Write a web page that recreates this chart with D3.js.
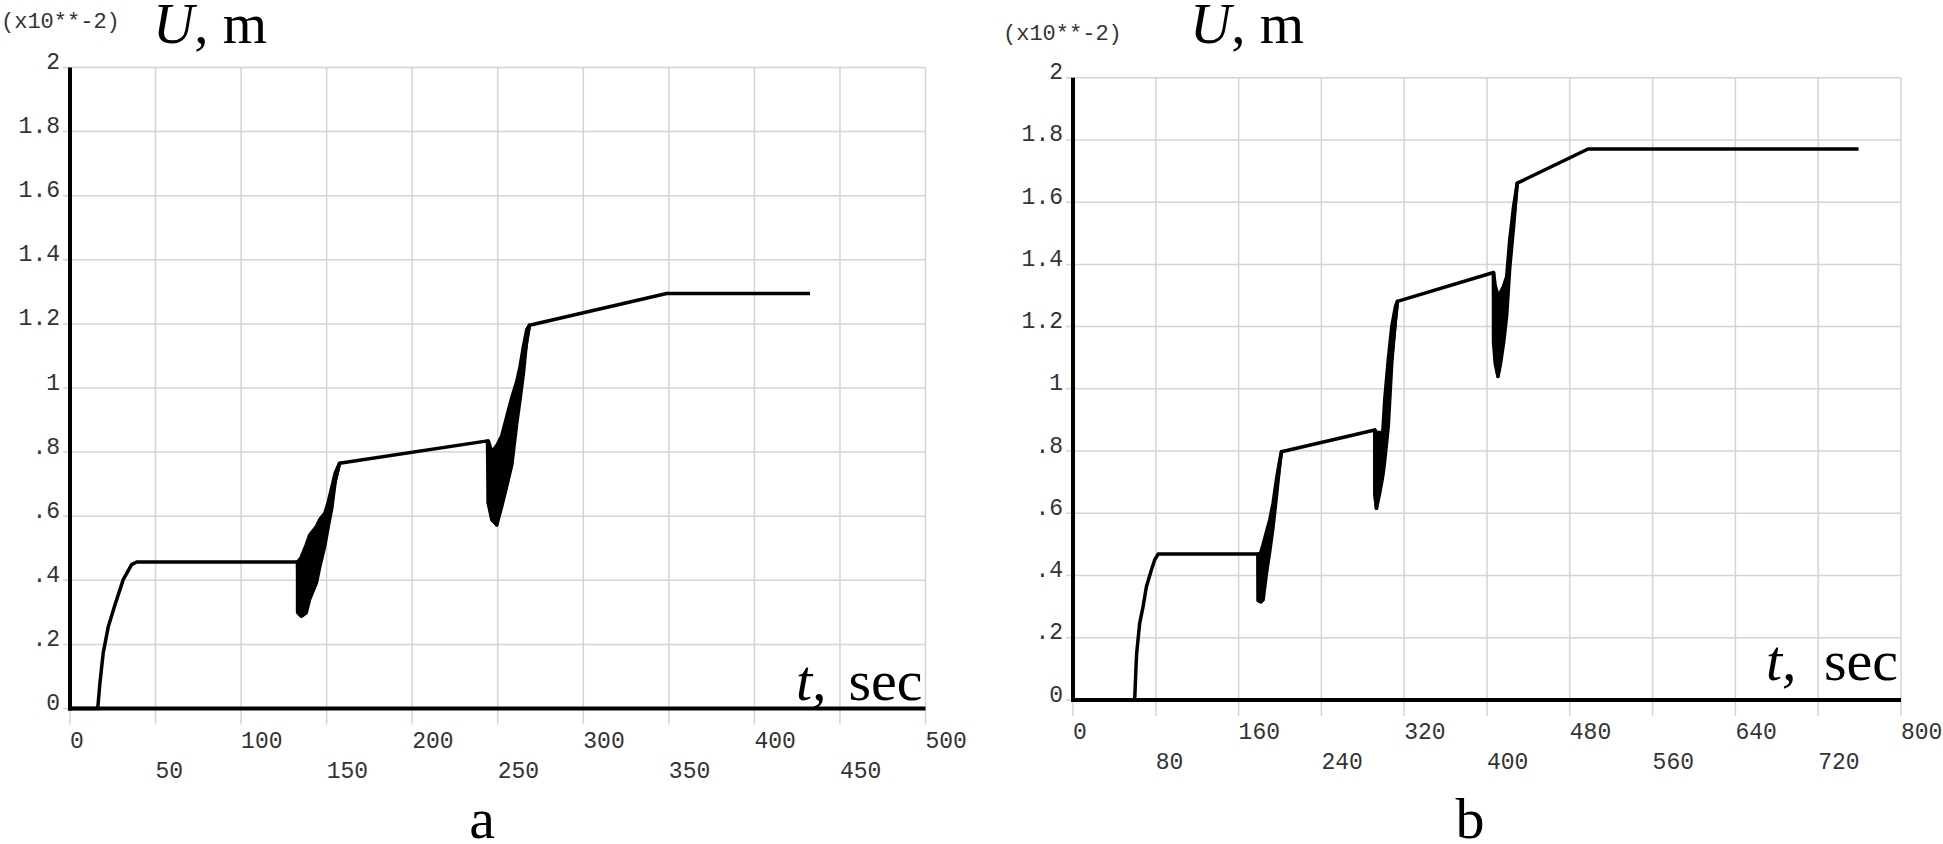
<!DOCTYPE html>
<html>
<head>
<meta charset="utf-8">
<script src="https://cdn.jsdelivr.net/npm/d3@7"></script>
<style>
  html, body { margin: 0; padding: 0; background: #fff; }
  svg { display: block; }
</style>
</head>
<body>
<svg id="chart" width="1943" height="844"></svg>
<script>
// ---------------- DATA ----------------
const yTicks = [0, 0.2, 0.4, 0.6, 0.8, 1, 1.2, 1.4, 1.6, 1.8, 2];
const yTickLabels = ["0", ".2", ".4", ".6", ".8", "1", "1.2", "1.4", "1.6", "1.8", "2"];
const xTicksA = [0, 50, 100, 150, 200, 250, 300, 350, 400, 450, 500];
const xTicksB = [0, 80, 160, 240, 320, 400, 480, 560, 640, 720, 800];
const scaleLabel = "(x10**-2)";
const yTitle = ["U", ", m"];
const xTitle = ["t,", "sec"];
const panelNames = ["a", "b"];

// Panel a: main trace (t in sec, U in 1e-2 m)
const tA = [0, 16.2, 17.5, 19.4, 22.4, 26.3, 31.1, 36, 38.9, 133, 133.5, 136, 157.5, 244, 244.5, 249.4, 268.5, 348.7, 432.5];
const uA = [0, 0, 0.08, 0.173, 0.256, 0.324, 0.402, 0.449, 0.457, 0.457, 0.30, 0.29, 0.765, 0.835, 0.64, 0.573, 1.196, 1.295, 1.295];
// Panel a: oscillation bands (envelopes)
const bandA1T  = [133, 135, 138, 140, 144, 146, 149, 151, 153, 155, 157.5];
const bandA1Lo = [0.30, 0.288, 0.298, 0.34, 0.392, 0.443, 0.51, 0.57, 0.625, 0.71, 0.765];
const bandA1Hi = [0.457, 0.47, 0.51, 0.54, 0.568, 0.59, 0.61, 0.645, 0.69, 0.735, 0.765];
const bandA2T  = [244.5, 246.5, 249.4, 252.3, 255.2, 258.2, 261.1, 263, 265, 266.9, 268.5];
const bandA2Lo = [0.64, 0.589, 0.573, 0.63, 0.693, 0.76, 0.89, 0.963, 1.046, 1.15, 1.196];
const bandA2Hi = [0.835, 0.80, 0.82, 0.85, 0.91, 0.97, 1.02, 1.066, 1.129, 1.181, 1.196];

// Panel b: main trace
const tB = [0, 59.6, 60.8, 61.5, 64.4, 67.7, 70.9, 75.7, 78.9, 82.2, 178.8, 179.3, 182, 201.4, 291.6, 292, 293.2, 313.4, 406.3, 406.8, 410.6, 429.2, 497.6, 759];
const uB = [0, 0, 0.1, 0.15, 0.246, 0.3, 0.364, 0.418, 0.45, 0.469, 0.469, 0.32, 0.316, 0.798, 0.868, 0.66, 0.616, 1.281, 1.374, 1.15, 1.04, 1.661, 1.771, 1.771];
// Panel b: oscillation bands
const bandB1T  = [178.8, 181, 183.7, 186.9, 190.1, 193.3, 196.5, 199.8, 201.4];
const bandB1Lo = [0.32, 0.316, 0.322, 0.407, 0.478, 0.557, 0.653, 0.76, 0.798];
const bandB1Hi = [0.469, 0.47, 0.50, 0.54, 0.579, 0.632, 0.707, 0.772, 0.798];
const bandB2T  = [291.6, 293.2, 296, 299.3, 301.2, 304.6, 308, 311.6, 313.4];
const bandB2Lo = [0.66, 0.616, 0.66, 0.72, 0.77, 0.879, 1.085, 1.227, 1.281];
const bandB2Hi = [0.868, 0.86, 0.86, 0.86, 0.965, 1.093, 1.2, 1.265, 1.281];
const bandB3T  = [406.3, 408, 410.6, 413, 416, 419, 422, 425.7, 429.2];
const bandB3Lo = [1.15, 1.08, 1.04, 1.08, 1.147, 1.235, 1.39, 1.522, 1.661];
const bandB3Hi = [1.374, 1.33, 1.30, 1.31, 1.33, 1.36, 1.48, 1.586, 1.661];

// ---------------- DRAW ----------------
const svg = d3.select("#chart");
const GRID = "#d4d4d4";
const TICKFONT = "'Liberation Mono', 'DejaVu Sans Mono', monospace";
const SERIF = "'Liberation Serif', 'Times New Roman', serif";

function panel(opt) {
  const x = d3.scaleLinear().domain([0, opt.xMax]).range([opt.left, opt.right]);
  const y = d3.scaleLinear().domain([0, 2]).range([opt.bottom, opt.top]);
  const g = svg.append("g");

  // vertical gridlines (extend below axis as ticks)
  g.selectAll("line.vg").data(opt.xTicks).enter().append("line")
    .attr("x1", d => x(d)).attr("x2", d => x(d))
    .attr("y1", y(2)).attr("y2", y(0) + 16)
    .attr("stroke", GRID).attr("stroke-width", 1.5);
  // horizontal gridlines (extend left of axis as ticks)
  g.selectAll("line.hg").data(yTicks).enter().append("line")
    .attr("x1", x(0) - 7).attr("x2", x(opt.xMax))
    .attr("y1", d => y(d)).attr("y2", d => y(d))
    .attr("stroke", GRID).attr("stroke-width", 1.5);

  // axis lines
  g.append("line").attr("x1", x(0)).attr("x2", x(0))
    .attr("y1", y(2)).attr("y2", y(0) + 2)
    .attr("stroke", "#000").attr("stroke-width", 4);
  g.append("line").attr("x1", x(0) - 2).attr("x2", x(opt.xMax))
    .attr("y1", y(0)).attr("y2", y(0))
    .attr("stroke", "#000").attr("stroke-width", 4);

  // bands
  const area = d3.area().x(d => x(d[0])).y0(d => y(d[1])).y1(d => y(d[2]));
  opt.bands.forEach(b => {
    g.append("path").datum(d3.zip(b[0], b[1], b[2]))
      .attr("d", area)
      .attr("fill", "#000").attr("stroke", "#000")
      .attr("stroke-width", 3.5).attr("stroke-linejoin", "round");
  });
  // main line
  const line = d3.line().x(d => x(d[0])).y(d => y(d[1]));
  g.append("path").datum(d3.zip(opt.t, opt.u))
    .attr("d", line).attr("fill", "none")
    .attr("stroke", "#000").attr("stroke-width", 3.5)
    .attr("stroke-linejoin", "round");

  // y tick labels
  g.selectAll("text.yl").data(yTicks).enter().append("text")
    .attr("x", x(0) - 10).attr("y", d => y(d) + 1.5)
    .attr("text-anchor", "end")
    .attr("font-family", TICKFONT).attr("font-size", 23)
    .attr("fill", "#333")
    .text((d, i) => yTickLabels[i]);
  // x tick labels (staggered rows)
  g.selectAll("text.xl").data(opt.xTicks).enter().append("text")
    .attr("x", d => x(d))
    .attr("y", (d, i) => y(0) + (i % 2 === 0 ? 39 : 69))
    .attr("text-anchor", "start")
    .attr("font-family", TICKFONT).attr("font-size", 23)
    .attr("fill", "#333")
    .text(d => d);

  // scale factor label
  g.append("text").attr("x", opt.scaleX).attr("y", opt.scaleY)
    .attr("font-family", TICKFONT).attr("font-size", 22).attr("fill", "#333")
    .text(scaleLabel);

  // y title
  const yt = g.append("text").attr("x", opt.uX).attr("y", 43)
    .attr("font-family", SERIF).attr("font-size", 57).attr("fill", "#000");
  yt.append("tspan").attr("font-style", "italic").text(yTitle[0]);
  yt.append("tspan").text(yTitle[1]);

  // x title
  g.append("text").attr("x", opt.tX).attr("y", opt.tY)
    .attr("font-family", SERIF).attr("font-size", 58).attr("font-style", "italic")
    .attr("fill", "#000").text(xTitle[0]);
  g.append("text").attr("x", x(opt.xMax) - 3).attr("y", opt.tY)
    .attr("text-anchor", "end")
    .attr("font-family", SERIF).attr("font-size", 58)
    .attr("fill", "#000").text(xTitle[1]);

  // panel letter
  g.append("text").attr("x", opt.letterX).attr("y", 838)
    .attr("text-anchor", "middle")
    .attr("font-family", SERIF).attr("font-size", 58)
    .attr("fill", "#000").text(opt.letter);
}

panel({
  left: 70, right: 925.5, top: 67.5, bottom: 708.5, xMax: 500, xTicks: xTicksA,
  t: tA, u: uA,
  bands: [[bandA1T, bandA1Lo, bandA1Hi], [bandA2T, bandA2Lo, bandA2Hi]],
  scaleX: 1, scaleY: 28, uX: 153, tX: 796, tY: 700, letterX: 482, letter: panelNames[0]
});
panel({
  left: 1073, right: 1901, top: 77.7, bottom: 700, xMax: 800, xTicks: xTicksB,
  t: tB, u: uB,
  bands: [[bandB1T, bandB1Lo, bandB1Hi], [bandB2T, bandB2Lo, bandB2Hi], [bandB3T, bandB3Lo, bandB3Hi]],
  scaleX: 1003, scaleY: 40, uX: 1190, tX: 1766, tY: 680, letterX: 1470, letter: panelNames[1]
});
</script>
</body>
</html>
